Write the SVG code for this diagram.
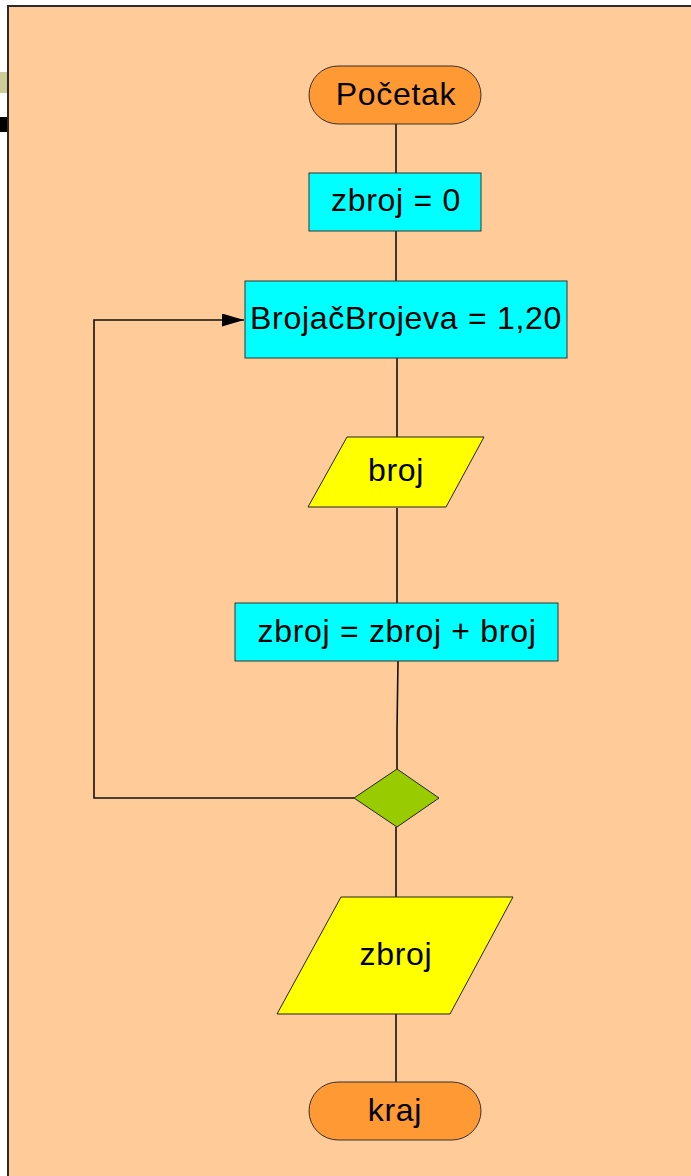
<svg xmlns="http://www.w3.org/2000/svg" width="691" height="1176" viewBox="0 0 691 1176">
  <style>
    .lbl { font-family: "Liberation Sans", Arial, sans-serif; font-size: 32px; letter-spacing: 0.7px; fill: #000; text-anchor: middle; }
    .term { fill: #FF9933; stroke: #333; stroke-width: 1; }
    .proc { fill: #00FFFF; stroke: #333; stroke-width: 1; }
    .io { fill: #FFFF00; stroke: #222; stroke-width: 1; }
    .dec { fill: #99CC00; stroke: #222; stroke-width: 1; }
    .conn { fill: none; stroke: #111; stroke-width: 1.6; }
  </style>
  <defs>
    <marker id="arrow" viewBox="0 0 10 10" refX="10" refY="5" markerWidth="22" markerHeight="13" markerUnits="userSpaceOnUse" orient="auto" preserveAspectRatio="none">
      <path d="M0,0 L10,5 L0,10 z" fill="#000"/>
    </marker>
  </defs>

  <!-- page background -->
  <rect x="0" y="0" width="691" height="1176" fill="#FFFFFF"/>
  <rect x="0" y="72" width="8" height="21" fill="#CCCC99"/>
  <rect x="0" y="117" width="8" height="15" fill="#000"/>
  <rect x="8" y="6" width="690" height="1180" fill="#FFCC99" stroke="#2a2a2a" stroke-width="2"/>

  <!-- connectors -->
  <g id="connectors">
    <line class="conn" x1="396" y1="124" x2="396" y2="173"/>
    <line class="conn" x1="396" y1="231" x2="396" y2="281"/>
    <line class="conn" x1="397" y1="358" x2="397" y2="437"/>
    <line class="conn" x1="397" y1="508" x2="397" y2="603"/>
    <polyline class="conn" points="398,661 397,730 397,769"/>
    <line class="conn" x1="396" y1="827" x2="396" y2="897"/>
    <line class="conn" x1="396" y1="1014" x2="396" y2="1082"/>
    <polyline class="conn" points="354,798 94,798 94,320 244,320" marker-end="url(#arrow)"/>
  </g>

  <g id="start">
    <rect class="term" x="309" y="66" width="172" height="58" rx="29" ry="29"/>
    <text class="lbl" x="396" y="105">Početak</text>
  </g>

  <g id="init">
    <rect class="proc" x="309" y="173" width="172" height="58"/>
    <text class="lbl" x="396" y="211">zbroj = 0</text>
  </g>

  <g id="loop">
    <rect class="proc" x="245" y="281" width="322" height="77"/>
    <text class="lbl" x="406" y="329">BrojačBrojeva = 1,20</text>
  </g>

  <g id="input">
    <polygon class="io" points="347,437 484,437 446,507 308,507"/>
    <text class="lbl" x="396" y="481">broj</text>
  </g>

  <g id="sum">
    <rect class="proc" x="235" y="603" width="323" height="58"/>
    <text class="lbl" x="397" y="642">zbroj = zbroj + broj</text>
  </g>

  <g id="check">
    <polygon class="dec" points="397,769 439,798 397,827 354,798"/>
  </g>

  <g id="output">
    <polygon class="io" points="341,897 513,897 450,1014 277,1014"/>
    <text class="lbl" x="396" y="965">zbroj</text>
  </g>

  <g id="end">
    <rect class="term" x="309" y="1082" width="172" height="58" rx="29" ry="29"/>
    <text class="lbl" x="395" y="1121">kraj</text>
  </g>
</svg>
